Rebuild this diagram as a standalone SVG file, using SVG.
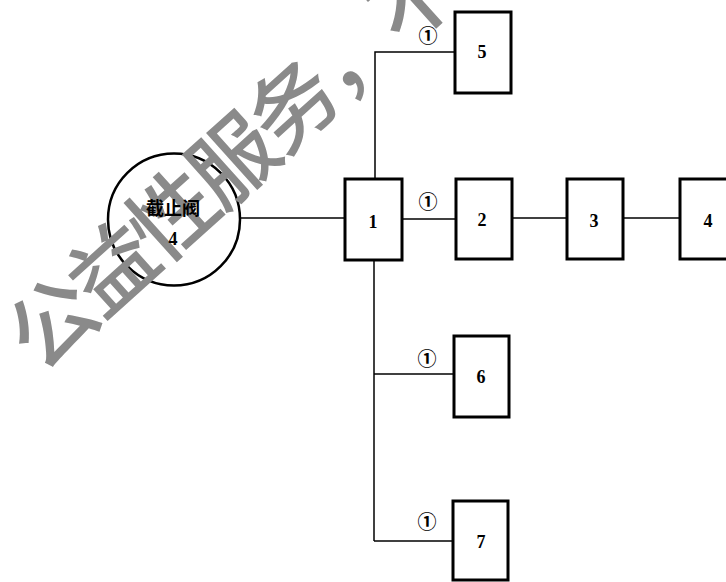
<svg xmlns="http://www.w3.org/2000/svg" width="726" height="582" viewBox="0 0 726 582">
<style>
.box{fill:#fff;stroke:#000;stroke-width:3}
.ln{fill:none;stroke:#000;stroke-width:1.5}
.num{font-family:"Liberation Serif",serif;font-weight:bold;font-size:18px;text-anchor:middle;fill:#000}
.cir{font-family:"Noto Sans CJK SC",sans-serif;font-weight:bold;font-size:19px;text-anchor:middle;fill:#000}
.cn{font-family:"Noto Sans CJK SC",sans-serif;font-weight:bold;font-size:18px;text-anchor:middle;fill:#000}
.wm{font-family:"Noto Sans CJK SC",sans-serif;font-weight:500;font-size:86px;letter-spacing:-5px;fill:#8a8a8a}
</style>
<rect width="726" height="582" fill="#fff"/>
<g id="connectors">
<line class="ln" x1="240" y1="218" x2="345" y2="218"/>
<line class="ln" x1="402" y1="219" x2="456" y2="219"/>
<line class="ln" x1="512" y1="218" x2="567" y2="218"/>
<line class="ln" x1="623" y1="218" x2="680" y2="218"/>
<polyline class="ln" points="455,52 375,52 375,179"/>
<line class="ln" x1="374" y1="260" x2="374" y2="541"/>
<line class="ln" x1="374" y1="374" x2="454" y2="374"/>
<line class="ln" x1="374" y1="541" x2="453" y2="541"/>
<text class="cir" x="428" y="43">①</text>
<text class="cir" x="428" y="209">①</text>
<text class="cir" x="427" y="366">①</text>
<text class="cir" x="427" y="529">①</text>
</g>
<g id="valve">
<circle cx="174" cy="219.5" r="66" fill="#fff" stroke="#000" stroke-width="2.5"/>
</g>
<g id="n1"><rect class="box" x="345" y="179" width="57" height="81"/><text class="num" x="373" y="228" font-weight="normal">1</text></g>
<g id="n2"><rect class="box" x="456" y="179" width="56" height="80"/><text class="num" x="482" y="226">2</text></g>
<g id="n3"><rect class="box" x="567" y="179" width="56" height="80"/><text class="num" x="594" y="227">3</text></g>
<g id="n4"><rect class="box" x="680" y="179" width="56" height="80"/><text class="num" x="708" y="227">4</text></g>
<g id="n5"><rect class="box" x="455" y="12" width="56" height="81"/><text class="num" x="482" y="58">5</text></g>
<g id="n6"><rect class="box" x="454" y="336" width="55" height="81"/><text class="num" x="481" y="383">6</text></g>
<g id="n7"><rect class="box" x="453" y="501" width="55" height="79"/><text class="num" x="481" y="548">7</text></g>
<g id="watermark" transform="translate(52,322) rotate(-42)">
<text class="wm" x="-43" y="32">公益性服务，不</text>
</g>
<g id="valve-label">
<text class="cn" x="173" y="215">截止阀</text>
<text class="num" x="173" y="245">4</text>
</g>
</svg>
